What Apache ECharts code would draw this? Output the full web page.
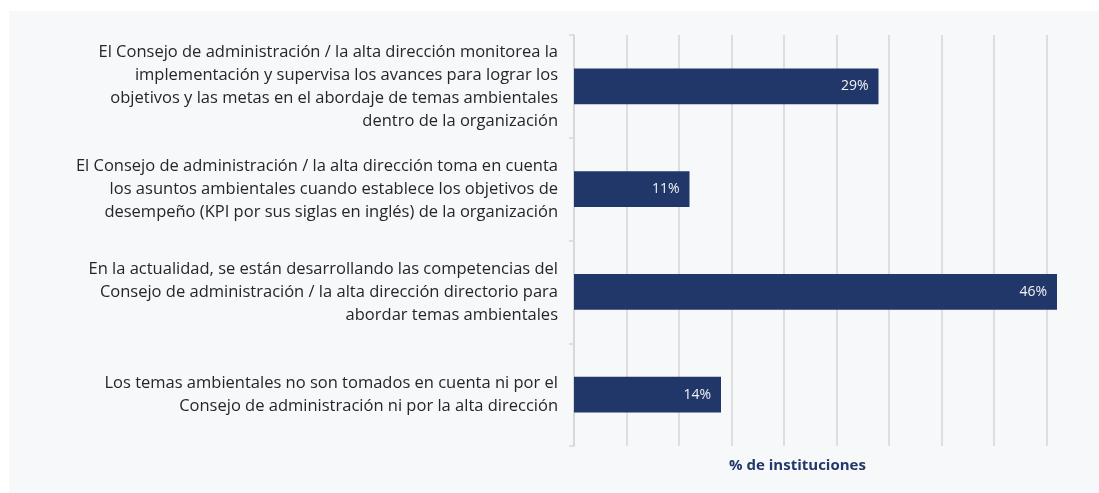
<!DOCTYPE html>
<html>
<head>
<meta charset="utf-8">
<script src="https://cdn.jsdelivr.net/npm/echarts@6/dist/echarts.min.js"></script>
<style>
  html, body { margin: 0; padding: 0; background: #ffffff; overflow: hidden; width: 100%; height: 100%; }
  #main { position: absolute; left: 9px; top: 11px; right: 0; bottom: 0; background: #f7f8fa; }
</style>
</head>
<body>
<div id="main"></div>
<script>
const categories = [
  "El Consejo de administración / la alta dirección monitorea la\nimplementación y supervisa los avances para lograr los\nobjetivos y las metas en el abordaje de temas ambientales\ndentro de la organización",
  "El Consejo de administración / la alta dirección toma en cuenta\nlos asuntos ambientales cuando establece los objetivos de\ndesempeño (KPI por sus siglas en inglés) de la organización",
  "En la actualidad, se están desarrollando las competencias del\nConsejo de administración / la alta dirección directorio para\nabordar temas ambientales",
  "Los temas ambientales no son tomados en cuenta ni por el\nConsejo de administración ni por la alta dirección"
];
const values = [29, 11, 46, 14];
const axisName = "% de instituciones";

const chartDom = document.getElementById("main");
const myChart = echarts.init(chartDom, null, { renderer: "canvas" });

const option = {
  backgroundColor: "#f7f8fa",
  animation: false,
  grid: {
    left: 565,
    right: 0,
    top: 24,
    bottom: 47,
    containLabel: false
  },
  xAxis: {
    type: "value",
    min: 0,
    max: 50,
    interval: 5,
    axisLine: { show: false },
    axisTick: { show: false },
    axisLabel: { show: false },
    splitLine: {
      showMaxLine: false,
      lineStyle: { color: "#d6d6d6", width: 1.5 }
    },
    name: axisName,
    nameLocation: "middle",
    nameGap: 12,
    nameTextStyle: {
      color: "#213769",
      fontWeight: "bold",
      fontSize: 15,
      fontFamily: "Open Sans",
      padding: [0, 78, 0, 0]
    }
  },
  yAxis: {
    type: "category",
    inverse: true,
    data: categories,
    axisLine: { show: true, lineStyle: { color: "#d6d6d6", width: 1.5 } },
    axisTick: { show: true, length: 5, lineStyle: { color: "#d6d6d6", width: 1.5 } },
    axisLabel: {
      margin: 16,
      color: "#262626",
      fontSize: 16.5,
      lineHeight: 23,
      fontFamily: "Open Sans",
      align: "right"
    }
  },
  series: [
    {
      type: "bar",
      data: values,
      barWidth: "35%",
      itemStyle: { color: "#213769" },
      label: {
        show: true,
        position: "insideRight",
        distance: 10,
        color: "#f2f2f2",
        fontSize: 14,
        fontFamily: "Open Sans",
        formatter: (p) => p.value + "%"
      }
    }
  ]
};

option && myChart.setOption(option);
</script>
</body>
</html>
